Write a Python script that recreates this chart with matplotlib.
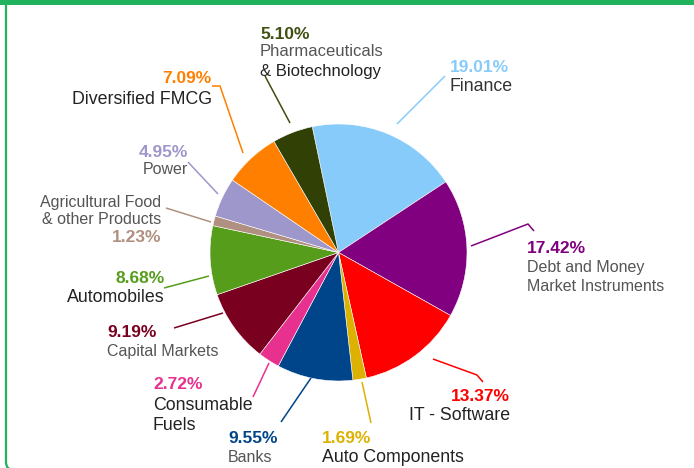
import matplotlib
matplotlib.use("Agg")
import matplotlib.pyplot as plt
from matplotlib.patches import FancyBboxPatch, Rectangle

# ---------------- data ----------------
categories = ["Finance", "Debt and Money\nMarket Instruments", "IT - Software",
              "Auto Components", "Banks", "Consumable\nFuels", "Capital Markets",
              "Automobiles", "Agricultural Food\n& other Products", "Power",
              "Diversified FMCG", "Pharmaceuticals\n& Biotechnology"]
values = [19.01, 17.42, 13.37, 1.69, 9.55, 2.72, 9.19, 8.68, 1.23, 4.95, 7.09, 5.10]
colors = ["#87CBFB", "#800080", "#FF0000", "#DDB100", "#00458A", "#E8308F",
          "#7A0020", "#579D1C", "#B09080", "#9E97CB", "#FF8000", "#314004"]
pct_colors = ["#87CBFB", "#800080", "#FF0000", "#DDB100", "#00458A", "#E8308F",
              "#7A0020", "#579D1C", "#B09080", "#9E97CB", "#FF8000", "#3F4F10"]

# ---------------- layout (pixel coords) ----------------
W, H = 694, 468
CENTER = (338.5, 252.5)
RADIUS = 128.5
START = 101.8
FS_PCT = 12.5
DARK = ("#222222", 12.8)
GRAY = ("#555555", 11.5)
MID_G = ("#555555", 12.0)
MID_D = ("#222222", 12.0)

# per category: (x, ha, pct baseline, [line baselines], [line styles])
label_layout = [
    (450, "left", 72, [91], [("#333333", 12.8)]),
    (527, "left", 253, [272, 291], [GRAY, GRAY]),
    (510, "right", 401, [420], [DARK]),
    (322, "left", 443, [462], [DARK]),
    (228, "left", 443, [462], [GRAY]),
    (153, "left", 389, [410, 430], [DARK, DARK]),
    (107, "left", 337, [356], [GRAY]),
    (165, "right", 283, [302], [DARK]),
    (161, "right", 242, [207, 224], [GRAY, GRAY]),
    (188, "right", 157, [174], [GRAY]),
    (212, "right", 83, [104], [DARK]),
    (260, "left", 39, [56, 76], [MID_G, MID_D]),
]
leaders = [
    [(445, 76), (397, 124)],
    [(471, 246), (528, 224), (534, 231)],
    [(433, 359), (477, 375), (483, 382)],
    [(362, 382), (371, 423)],
    [(311, 378), (281, 422)],
    [(269, 363), (253, 397)],
    [(223, 313), (174, 328)],
    [(209, 276), (164, 288)],
    [(211, 222), (166, 208)],
    [(218, 194), (188, 162)],
    [(243, 153), (220, 86), (212, 86)],
    [(290, 123), (265, 76)],
]

plt.rcParams["font.family"] = ["Liberation Sans", "DejaVu Sans"]

fig = plt.figure(figsize=(W / 100, H / 100), dpi=100)
ax = fig.add_axes([0, 0, 1, 1])


def P(x, y):
    return x, H - y


ax.pie(values, colors=colors, startangle=START, counterclock=False,
       center=P(*CENTER), radius=RADIUS,
       wedgeprops=dict(edgecolor="white", linewidth=0.4))
ax.set_xlim(0, W)
ax.set_ylim(0, H)
ax.set_aspect("auto")
ax.axis("off")

# frame
ax.add_patch(Rectangle(P(0, 5), W, 5, facecolor="#21B25E", edgecolor="none", zorder=5))
ax.add_patch(FancyBboxPatch(P(6, 470), 720, 480, boxstyle="round,pad=0,rounding_size=8",
                            facecolor="none", edgecolor="#21B25E", linewidth=1.6, zorder=5))

for i, cat in enumerate(categories):
    x, ha, pby, lby, lstyles = label_layout[i]
    ax.text(*P(x, pby), f"{values[i]:.2f}%", ha=ha, va="baseline", fontsize=FS_PCT,
            fontweight="bold", color=pct_colors[i])
    for line, by, (c, fs) in zip(cat.split("\n"), lby, lstyles):
        ax.text(*P(x, by), line, ha=ha, va="baseline", fontsize=fs, color=c)
    pts = [P(*p) for p in leaders[i]]
    ax.plot([p[0] for p in pts], [p[1] for p in pts], color=pct_colors[i], lw=1.1,
            solid_capstyle="butt")

fig.savefig("out.png", dpi=100)
